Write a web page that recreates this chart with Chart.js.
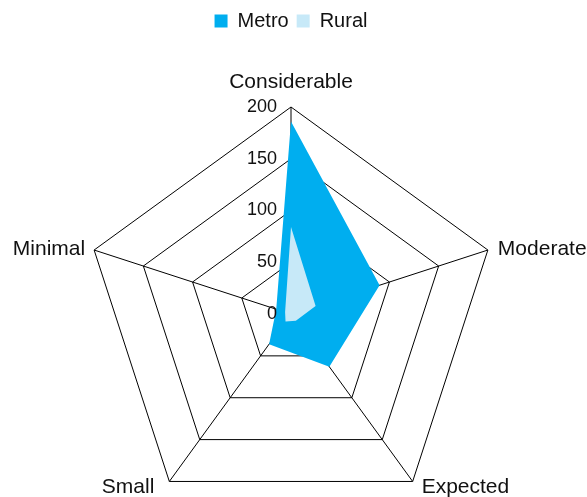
<!DOCTYPE html>
<html>
<head>
<meta charset="utf-8">
<script src="https://cdn.jsdelivr.net/npm/chart.js@4/dist/chart.umd.min.js"></script>
<style>
  html, body { margin: 0; padding: 0; background: #fff; }
  #wrap { width: 587px; height: 497px; }
</style>
</head>
<body>
<div id="wrap"><canvas id="radar"></canvas></div>
<script>
// categories go clockwise from the top
const categories = ['Considerable', 'Moderate', 'Expected', 'Small', 'Minimal'];
const metro = [186, 90, 63, 36, 15];
const rural = [84, 25, 8, 9, 6];
const tickValues = [0, 50, 100, 150, 200];

const FONT = '"Liberation Sans", Arial, sans-serif';

// where each category name sits relative to its outer corner
const labelPlace = [
  { align: 'center', dx: 0, dy: -19 },
  { align: 'left', dx: 10, dy: 5 },
  { align: 'left', dx: 9, dy: 12 },
  { align: 'right', dx: -15, dy: 12 },
  { align: 'right', dx: -9, dy: 5 }
];

// category names and tick numbers drawn against the radial scale
const radarText = {
  id: 'radarText',
  afterDraw(chart) {
    const r = chart.scales.r;
    const ctx = chart.ctx;
    ctx.save();
    ctx.fillStyle = '#111';

    ctx.font = '21px ' + FONT;
    ctx.textBaseline = 'alphabetic';
    categories.forEach((name, i) => {
      const p = r.getPointPosition(i, r.drawingArea);
      const s = labelPlace[i];
      ctx.textAlign = s.align;
      ctx.fillText(name, p.x + s.dx, p.y + s.dy);
    });

    ctx.font = '18px ' + FONT;
    ctx.textAlign = 'right';
    ctx.textBaseline = 'middle';
    tickValues.forEach(v => {
      const d = r.getDistanceFromCenterForValue(v);
      ctx.fillText(String(v), r.xCenter - 14, r.yCenter - d);
    });
    ctx.restore();
  }
};

new Chart(document.getElementById('radar'), {
  type: 'radar',
  data: {
    labels: categories,
    datasets: [
      {
        label: 'Metro',
        data: metro,
        backgroundColor: '#00aeef',
        borderWidth: 0,
        pointRadius: 0,
        fill: true,
        order: 1
      },
      {
        label: 'Rural',
        data: rural,
        backgroundColor: '#c7e9f8',
        borderWidth: 0,
        pointRadius: 0,
        fill: true,
        order: 0
      }
    ]
  },
  options: {
    responsive: true,
    maintainAspectRatio: false,
    animation: false,
    layout: { padding: { top: 3, left: 84, right: 89, bottom: 0 } },
    plugins: {
      legend: {
        position: 'top',
        reverse: true,
        labels: {
          boxWidth: 13,
          boxHeight: 13,
          padding: 8,
          color: '#111',
          font: { size: 20, family: FONT }
        }
      },
      tooltip: { enabled: false }
    },
    scales: {
      r: {
        z: 1,
        min: 0,
        max: 200,
        ticks: { stepSize: 50, display: false },
        grid: { color: '#000', lineWidth: 1 },
        angleLines: { color: '#000', lineWidth: 1 },
        pointLabels: { display: false },
        // the pentagon hangs low: its bottom corners sit just above the labels
        afterFit(scale) {
          scale.drawingArea = Math.floor(scale.width / 2);
          scale.yCenter = scale.bottom - 183;
        }
      }
    }
  },
  plugins: [radarText]
});
</script>
</body>
</html>
